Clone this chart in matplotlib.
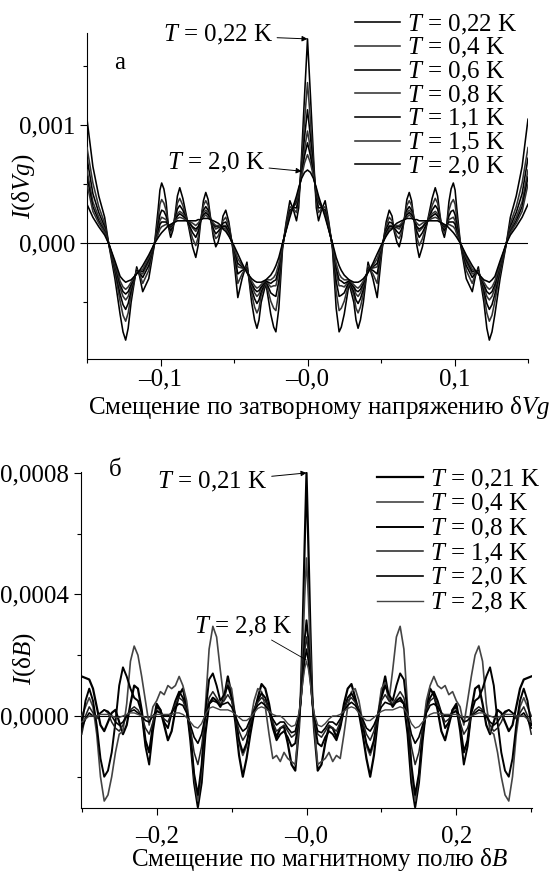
import numpy as np
import matplotlib
matplotlib.use("Agg")
import matplotlib.pyplot as plt
from matplotlib.ticker import FixedLocator, FixedFormatter

plt.rcParams['font.family'] = ['Liberation Serif', 'DejaVu Serif']
plt.rcParams['mathtext.fontset'] = 'custom'
plt.rcParams['mathtext.rm'] = 'Liberation Serif'
plt.rcParams['mathtext.it'] = 'Liberation Serif:italic'

# --- panel a: I(dVg), values in 1e-3, half range (curve is symmetric about 0)
xa_half = [0, 0.002, 0.004, 0.006, 0.0075, 0.0095, 0.012, 0.0145, 0.017, 0.0195, 0.0215,
           0.023, 0.025, 0.0283, 0.0315, 0.033, 0.0344, 0.036, 0.038, 0.0412, 0.0445, 0.0474, 0.0508,
           0.0535, 0.0556, 0.0575, 0.059, 0.0608, 0.0624, 0.064, 0.066, 0.0676, 0.0692, 0.0708, 0.0725,
           0.0744, 0.076, 0.0782, 0.0815, 0.0848, 0.0869, 0.0885, 0.09, 0.0916, 0.0931, 0.0946, 0.0962,
           0.0977, 0.0992, 0.1004, 0.1015,
           0.104, 0.108, 0.1121, 0.1142, 0.1162, 0.12, 0.122, 0.1237, 0.1255, 0.1275, 0.131, 0.1353,
           0.138, 0.142, 0.146, 0.15]
a_022 = [1.73, 1.25, 0.75, 0.30, 0.19, 0.28, 0.36, 0.18, -0.05, -0.55, -0.75,
         -0.71, -0.60, -0.34, -0.50, -0.65, -0.72, -0.65, -0.50, -0.16, -0.30, -0.46, -0.05,
         0.18, 0.28, 0.23, 0.10, 0.01, -0.03, 0.05, 0.22, 0.37, 0.43, 0.36, 0.20, -0.02, -0.12, -0.03, 0.18,
         0.38, 0.47, 0.40, 0.25, 0.11, 0.05, 0.14, 0.35, 0.46, 0.51, 0.45, 0.30,
         0.00, -0.30, -0.41, -0.28, -0.20, -0.50, -0.72, -0.82, -0.75, -0.60, -0.30, 0.00, 0.22, 0.40, 0.65, 1.05]
a_04 = [1.36, 1.04, 0.68, 0.36, 0.26, 0.29, 0.31, 0.16, -0.03, -0.41, -0.57,
        -0.55, -0.49, -0.33, -0.44, -0.55, -0.59, -0.54, -0.43, -0.19, -0.26, -0.34, -0.03,
        0.15, 0.22, 0.19, 0.12, 0.06, 0.04, 0.09, 0.21, 0.32, 0.36, 0.32, 0.21, 0.05, -0.02, 0.04, 0.18,
        0.32, 0.38, 0.34, 0.23, 0.13, 0.09, 0.15, 0.28, 0.34, 0.37, 0.33, 0.22,
        0.00, -0.23, -0.34, -0.26, -0.22, -0.44, -0.59, -0.66, -0.61, -0.49, -0.25, 0.00, 0.17, 0.31, 0.51, 0.81]
a_06 = [1.13, 0.90, 0.64, 0.39, 0.30, 0.30, 0.28, 0.14, -0.02, -0.32, -0.45,
        -0.44, -0.42, -0.32, -0.41, -0.48, -0.51, -0.47, -0.39, -0.21, -0.23, -0.26, -0.02,
        0.12, 0.18, 0.17, 0.13, 0.10, 0.08, 0.12, 0.21, 0.28, 0.31, 0.28, 0.20, 0.10, 0.05, 0.09, 0.18,
        0.28, 0.32, 0.29, 0.21, 0.14, 0.11, 0.15, 0.23, 0.27, 0.28, 0.24, 0.16,
        0.00, -0.19, -0.29, -0.25, -0.23, -0.40, -0.51, -0.56, -0.52, -0.43, -0.22, 0.00, 0.14, 0.26, 0.42, 0.72]
a_08 = [0.95, 0.80, 0.61, 0.42, 0.34, 0.31, 0.26, 0.13, -0.02, -0.25, -0.36,
        -0.36, -0.37, -0.32, -0.38, -0.43, -0.45, -0.42, -0.36, -0.22, -0.21, -0.20, -0.02,
        0.10, 0.15, 0.15, 0.14, 0.13, 0.12, 0.15, 0.21, 0.26, 0.28, 0.26, 0.21, 0.13, 0.10, 0.13, 0.19,
        0.25, 0.27, 0.25, 0.20, 0.15, 0.13, 0.15, 0.20, 0.21, 0.22, 0.19, 0.12,
        0.01, -0.16, -0.26, -0.25, -0.24, -0.37, -0.45, -0.48, -0.45, -0.38, -0.20, 0.00, 0.12, 0.22, 0.35, 0.62]
a_11 = [0.85, 0.74, 0.59, 0.43, 0.36, 0.31, 0.25, 0.12, -0.01, -0.21, -0.31,
        -0.32, -0.34, -0.32, -0.37, -0.40, -0.41, -0.39, -0.34, -0.23, -0.20, -0.17, -0.01,
        0.09, 0.14, 0.14, 0.14, 0.14, 0.14, 0.16, 0.20, 0.24, 0.26, 0.24, 0.20, 0.14, 0.12, 0.14, 0.19,
        0.23, 0.25, 0.23, 0.19, 0.16, 0.14, 0.15, 0.18, 0.18, 0.18, 0.16, 0.10,
        0.00, -0.14, -0.24, -0.24, -0.25, -0.35, -0.41, -0.43, -0.41, -0.35, -0.18, 0.00, 0.10, 0.19, 0.31, 0.56]
a_15 = [0.75, 0.68, 0.57, 0.45, 0.37, 0.32, 0.24, 0.12, -0.01, -0.17, -0.26,
        -0.29, -0.31, -0.31, -0.35, -0.37, -0.38, -0.36, -0.32, -0.24, -0.19, -0.13, -0.01,
        0.07, 0.12, 0.13, 0.14, 0.15, 0.15, 0.17, 0.20, 0.22, 0.24, 0.22, 0.20, 0.17, 0.15, 0.17, 0.19,
        0.21, 0.22, 0.21, 0.19, 0.17, 0.15, 0.15, 0.16, 0.15, 0.14, 0.12, 0.08,
        0.00, -0.12, -0.22, -0.24, -0.25, -0.33, -0.37, -0.39, -0.37, -0.32, -0.17, 0.00, 0.09, 0.17, 0.27, 0.50]
a_20 = [0.62, 0.60, 0.55, 0.47, 0.40, 0.32, 0.22, 0.11, 0.00, -0.12, -0.19,
        -0.23, -0.27, -0.31, -0.33, -0.33, -0.33, -0.32, -0.30, -0.25, -0.17, -0.09, 0.00,
        0.06, 0.10, 0.12, 0.15, 0.17, 0.18, 0.19, 0.20, 0.21, 0.21, 0.21, 0.20, 0.20, 0.19, 0.19, 0.19,
        0.19, 0.19, 0.19, 0.18, 0.17, 0.16, 0.15, 0.13, 0.11, 0.09, 0.07, 0.05,
        0.00, -0.10, -0.19, -0.23, -0.26, -0.31, -0.32, -0.33, -0.31, -0.28, -0.15, 0.00, 0.07, 0.14, 0.22, 0.33]
labels_a = ['0,22', '0,4', '0,6', '0,8', '1,1', '1,5', '2,0']

# --- panel b: I(dB), values in 1e-4, half range
xb_half = [0, 0.0025, 0.005, 0.0075, 0.01, 0.015, 0.02, 0.025, 0.03, 0.035, 0.04, 0.045, 0.05, 0.055,
           0.06, 0.065, 0.07, 0.075, 0.08, 0.085, 0.09, 0.095, 0.10, 0.105, 0.11, 0.115, 0.12, 0.125,
           0.13, 0.135, 0.14, 0.145, 0.15, 0.155, 0.16, 0.165, 0.17, 0.175, 0.18, 0.185, 0.19, 0.195,
           0.20, 0.205, 0.21, 0.215, 0.22, 0.225, 0.23, 0.235, 0.24, 0.245, 0.25, 0.255, 0.26, 0.265,
           0.27, 0.275, 0.28, 0.285, 0.29, 0.295, 0.30]
b_021 = [8.0, 5.6, 3.0, 0.8, -0.4, -1.8, -1.6, -0.9, -0.35, -0.4, -0.7, -0.3, 0.4, 0.9, 1.05, 0.6, 0.1, -0.6,
         -1.4, -2.0, -1.3, -0.2, 0.7, 1.3, 0.6, 0.3, 0.5, 0.6, 0.4, -0.6, -2.2, -3.0, -2.2, -0.8, 0.3, 0.9,
         0.7, 0.2, -0.5, -0.8, -0.3, 0.2, 0.4, -0.3, -1.2, -0.8, 0.2, 0.9, 1.0, 0.4, -0.3, -0.6, -0.2, 0.2,
         0.1, -0.2, -0.5, -0.3, 0.3, 0.9, 1.2, 1.25, 1.3]
b_04 = [5.2, 3.9, 2.2, 0.7, -0.3, -1.6, -1.5, -1.4, -1.2, -1.5, -1.3, -1.4, -0.6, 0.3, 0.8, 0.9, 0.5, -0.2,
        -1.0, -1.3, -0.9, 0.0, 0.9, 1.1, 0.5, 1.5, 2.6, 2.95, 2.2, 0.3, -1.8, -2.8, -2.0, -0.5, 0.5, 1.0,
        1.3, 1.0, 0.9, 1.0, 0.7, 0.8, 0.5, 0.3, -0.3, 0.5, 1.3, 2.0, 2.3, 1.8, 0.4, -0.5, -0.6, -1.2,
        -2.0, -2.6, -2.8, -2.0, -0.6, 0.3, 0.6, 0.3, 0.0]
b_08 = [3.15, 2.5, 1.5, 0.6, -0.1, -0.9, -1.0, -0.7, -0.5, -0.6, -0.8, -0.4, 0.2, 0.6, 0.75, 0.5, 0.2, -0.3,
        -0.9, -1.2, -0.8, 0.0, 0.6, 1.0, 0.7, 0.5, 1.0, 1.4, 1.2, 0.1, -1.6, -2.6, -1.9, -0.6, 0.2, 0.6,
        0.8, 0.5, 0.1, -0.4, -0.2, 0.2, 0.3, -0.5, -1.6, -1.0, 0.1, 0.5, 0.6, 0.9, 1.3, 1.6, 1.0, -0.2,
        -1.2, -1.8, -2.0, -1.4, -0.3, 0.5, 0.9, 0.5, -0.3]
b_14 = [2.6, 2.1, 1.3, 0.5, -0.1, -0.6, -0.7, -0.5, -0.3, -0.4, -0.5, -0.2, 0.2, 0.5, 0.6, 0.45, 0.2, -0.2,
        -0.6, -0.8, -0.5, 0.0, 0.5, 0.7, 0.5, 0.4, 0.6, 0.8, 0.6, 0.0, -1.0, -1.6, -1.2, -0.4, 0.2, 0.5,
        0.6, 0.4, 0.1, -0.2, -0.1, 0.1, 0.2, -0.2, -0.6, -0.4, 0.0, 0.2, 0.3, 0.2, 0.0, -0.3, -0.5, -0.4,
        -0.2, 0.1, 0.2, 0.1, -0.1, 0.1, 0.3, 0.0, -0.6]
b_20 = [2.2, 1.8, 1.2, 0.5, 0.0, -0.5, -0.55, -0.4, -0.2, -0.2, -0.3, -0.1, 0.15, 0.35, 0.45, 0.35, 0.15, -0.1,
        -0.4, -0.5, -0.3, 0.0, 0.3, 0.45, 0.4, 0.35, 0.45, 0.5, 0.4, 0.0, -0.6, -0.9, -0.7, -0.3, 0.1, 0.35,
        0.4, 0.3, 0.1, 0.0, 0.0, 0.1, 0.15, 0.0, -0.2, -0.15, 0.0, 0.1, 0.2, 0.15, 0.0, -0.2, -0.3, -0.2,
        0.0, 0.15, 0.2, 0.1, 0.0, 0.0, 0.1, -0.1, -0.4]
b_28 = [1.8, 1.55, 1.1, 0.55, 0.1, -0.3, -0.35, -0.25, -0.1, 0.0, 0.0, 0.05, 0.15, 0.25, 0.3, 0.25, 0.1, -0.05,
        -0.15, -0.15, -0.05, 0.05, 0.15, 0.2, 0.2, 0.2, 0.25, 0.3, 0.25, 0.05, -0.25, -0.4, -0.35, -0.2, -0.05,
        0.05, 0.1, 0.1, 0.05, 0.05, 0.05, 0.05, 0.05, 0.0, -0.05, -0.05, 0.0, 0.05, 0.1, 0.1, 0.05, 0.0,
        -0.05, -0.05, 0.0, 0.05, 0.05, 0.05, 0.0, 0.0, 0.0, -0.1, -0.2]
labels_b = ['0,21', '0,4', '0,8', '1,4', '2,0', '2,8']


def mirror(xh, yh, scale):
    # correlation function is even: reflect the measured half
    xh = np.asarray(xh)
    yh = np.asarray(yh) * scale
    return np.concatenate([-xh[::-1], xh[1:]]), np.concatenate([yh[::-1], yh[1:]])


FS = 18
W, H = 552, 877
fig = plt.figure(figsize=(W / 100, H / 100), dpi=100)


def style_axes(ax):
    ax.spines['top'].set_visible(False)
    ax.spines['right'].set_visible(False)
    ax.tick_params(which='both', direction='out', labelsize=FS, width=0.8)
    ax.tick_params(which='major', length=5)
    ax.tick_params(which='minor', length=3)
    ax.axhline(0, color='k', lw=0.8, zorder=1)


# ---------- panel a
ax1 = fig.add_axes([87 / W, 1 - 359 / H, (528 - 87) / W, (359 - 33) / H])
cols_a = ['k', '#333333', 'k', '#333333', 'k', '#333333', 'k']
for ys, lab, c in zip([a_022, a_04, a_06, a_08, a_11, a_15, a_20], labels_a, cols_a):
    xx, yy = mirror(xa_half, ys, 1e-3)
    ax1.plot(xx, yy, color=c, lw=1.15, label=r'$T$ = ' + lab + ' K', zorder=3)
ax1.set_xlim(-0.15, 0.15)
ax1.set_ylim(-0.00098, 0.00178)
style_axes(ax1)
ax1.xaxis.set_major_locator(FixedLocator([-0.1, 0.0, 0.1]))
ax1.xaxis.set_major_formatter(FixedFormatter(['–0,1', '–0,0', '0,1']))
ax1.xaxis.set_minor_locator(FixedLocator([-0.15, -0.05, 0.05, 0.15]))
ax1.yaxis.set_major_locator(FixedLocator([0.0, 0.001]))
ax1.yaxis.set_major_formatter(FixedFormatter(['0,000', '0,001']))
ax1.yaxis.set_minor_locator(FixedLocator([-0.0005, 0.0005, 0.0015]))
ax1.tick_params(axis='x', pad=2)
ax1.set_xlabel('Смещение по затворному напряжению δ$Vg$', fontsize=FS, va='baseline')
ax1.xaxis.set_label_coords(0.526, -0.168)
ax1.set_ylabel('$I$(δ$Vg$)', fontsize=FS, va='center')
ax1.yaxis.set_label_coords(-0.143, 0.531)
ax1.text(-0.128, 0.00153, 'а', fontsize=FS, ha='center', va='center')
ax1.annotate(r'$T$ = 0,22 K', xy=(0.0, 0.00173), xytext=(-0.0235, 0.00176),
             ha='right', va='center', fontsize=FS,
             arrowprops=dict(arrowstyle='-|>', lw=0.7, color='k', mutation_scale=8,
                             shrinkA=1, shrinkB=0))
ax1.annotate(r'$T$ = 2,0 K', xy=(-0.004, 0.00061), xytext=(-0.029, 0.00068),
             ha='right', va='center', fontsize=FS,
             arrowprops=dict(arrowstyle='-|>', lw=0.7, color='k', mutation_scale=8,
                             shrinkA=1, shrinkB=0))
ax1.legend(loc='upper left', bbox_to_anchor=(355 / W, 1 - 12.5 / H), bbox_transform=fig.transFigure,
           frameon=False, fontsize=FS, handlelength=1.8, handletextpad=0.28,
           labelspacing=-0.016, borderpad=0, borderaxespad=0)

# ---------- panel b
ax2 = fig.add_axes([81 / W, 1 - 808 / H, (532 - 81) / W, (808 - 472) / H])
cols_b = ['k', '#444444', 'k', '#222222', 'k', '#444444']
lws_b = [1.6, 1.2, 1.4, 1.1, 1.2, 1.0]
for ys, lab, c, lw in zip([b_021, b_04, b_08, b_14, b_20, b_28], labels_b, cols_b, lws_b):
    xx, yy = mirror(xb_half, ys, 1e-4)
    ax2.plot(xx, yy, color=c, lw=lw, label=r'$T$ = ' + lab + ' K', zorder=3)
ax2.set_xlim(-0.301, 0.301)
ax2.set_ylim(-0.000303, 0.000803)
style_axes(ax2)
ax2.xaxis.set_major_locator(FixedLocator([-0.2, 0.0, 0.2]))
ax2.xaxis.set_major_formatter(FixedFormatter(['–0,2', '–0,0', '0,2']))
ax2.xaxis.set_minor_locator(FixedLocator([-0.3, -0.1, 0.1, 0.3]))
ax2.yaxis.set_major_locator(FixedLocator([0.0, 0.0004, 0.0008]))
ax2.yaxis.set_major_formatter(FixedFormatter(['0,0000', '0,0004', '0,0008']))
ax2.yaxis.set_minor_locator(FixedLocator([-0.0002, 0.0002, 0.0006]))
ax2.tick_params(axis='x', pad=7.5)
ax2.set_xlabel('Смещение по магнитному полю δ$B$', fontsize=FS, va='baseline')
ax2.xaxis.set_label_coords(0.53, -0.173)
ax2.set_ylabel('$I$(δ$B$)', fontsize=FS, va='center')
ax2.yaxis.set_label_coords(-0.124, 0.446)
ax2.text(-0.255, 0.00081, 'б', fontsize=FS, ha='center', va='center')
ax2.annotate(r'$T$ = 0,21 K', xy=(0.0, 0.0008), xytext=(-0.052, 0.00077),
             ha='right', va='center', fontsize=FS, annotation_clip=False,
             arrowprops=dict(arrowstyle='-|>', lw=0.7, color='k', mutation_scale=8,
                             shrinkA=1, shrinkB=0))
ax2.text(-0.019, 0.000293, r'$T$ = 2,8 K', ha='right', va='center', fontsize=FS)
ax2.annotate('', xy=(0.0, 0.000184), xytext=(-0.0467, 0.00025),
             arrowprops=dict(arrowstyle='-', lw=0.6, color='k', shrinkA=0, shrinkB=0))
ax2.legend(loc='upper left', bbox_to_anchor=(377 / W, 1 - 467.5 / H), bbox_transform=fig.transFigure,
           frameon=False, fontsize=FS, handlelength=1.85, handletextpad=0.28,
           labelspacing=0.024, borderpad=0, borderaxespad=0)

fig.savefig('out.png', dpi=100)
